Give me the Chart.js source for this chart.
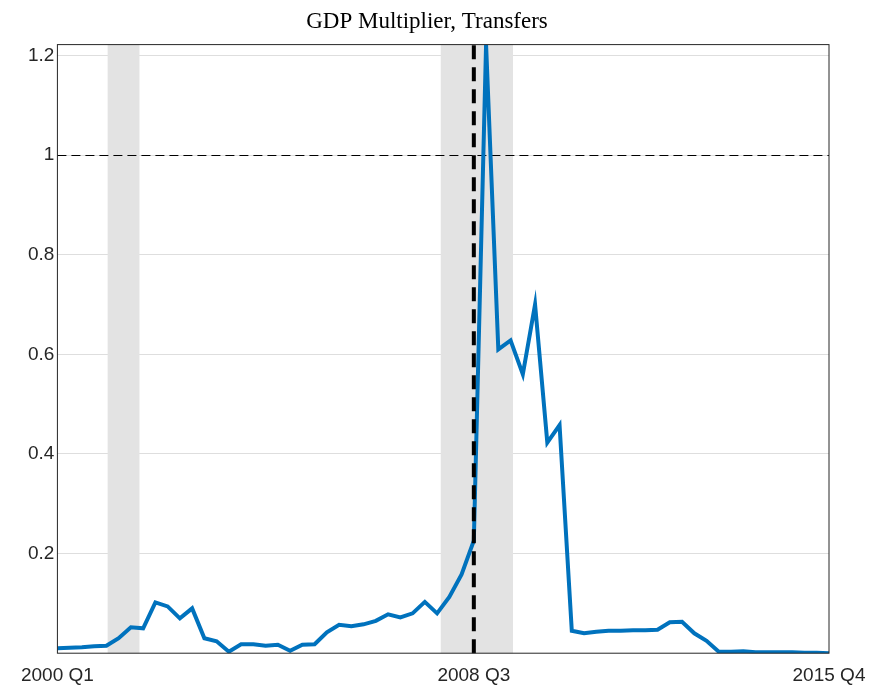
<!DOCTYPE html>
<html>
<head>
<meta charset="utf-8">
<script src="https://cdn.jsdelivr.net/npm/chart.js@4"></script>
<style>
  body { margin: 0; background: #fff; }
  #wrap { width: 876px; height: 690px; }
</style>
</head>
<body>
<div id="wrap"><canvas id="grafico"></canvas></div>
<script>
// quarters 2000Q1 .. 2015Q4, index 0..63
const etiquetas = [];
for (let a = 2000; a <= 2015; a++) for (let q = 1; q <= 4; q++) etiquetas.push(a + " Q" + q);

const multiplicador = [
  0.010, 0.011, 0.012, 0.014, 0.015, 0.030, 0.052, 0.050, 0.102, 0.094,
  0.070, 0.090, 0.030, 0.024, 0.003, 0.018, 0.018, 0.015, 0.017, 0.005,
  0.017, 0.018, 0.042, 0.057, 0.054, 0.058, 0.065, 0.078, 0.072, 0.080,
  0.103, 0.080, 0.113, 0.158, 0.226, 1.222, 0.610, 0.628, 0.560, 0.700,
  0.423, 0.458, 0.045, 0.040, 0.043, 0.045, 0.045, 0.046, 0.046, 0.047,
  0.062, 0.063, 0.040, 0.025, 0.003, 0.003, 0.004, 0.002, 0.002, 0.002,
  0.002, 0.001, 0.001, 0.000
];
const recesiones = [[4.1, 6.7], [31.3, 37.2]];
const ticksX = [0, 34, 63];
const ticksY = [0.2, 0.4, 0.6, 0.8, 1.0, 1.2];
const indiceEvento = 34;

const decoracion = {
  id: "decoracion",
  beforeDatasetsDraw(chart) {
    const { ctx, chartArea: a, scales: { x, y } } = chart;
    ctx.save();
    ctx.fillStyle = "#e3e3e3";
    recesiones.forEach(([i, f]) => {
      const x0 = x.getPixelForValue(i), x1 = x.getPixelForValue(f);
      ctx.fillRect(x0, a.top, x1 - x0, a.bottom - a.top);
    });
    ctx.strokeStyle = "#000";
    ctx.lineWidth = 1;
    ctx.setLineDash([9, 5]);
    const y1 = Math.round(y.getPixelForValue(1)) + 0.5;
    ctx.beginPath(); ctx.moveTo(a.left, y1); ctx.lineTo(a.right, y1); ctx.stroke();
    ctx.restore();
  },
  afterDatasetsDraw(chart) {
    const { ctx, chartArea: a, scales: { x } } = chart;
    ctx.save();
    ctx.strokeStyle = "#000";
    ctx.lineWidth = 4;
    ctx.setLineDash([14, 8]);
    const xe = x.getPixelForValue(indiceEvento);
    ctx.beginPath(); ctx.moveTo(xe, a.bottom); ctx.lineTo(xe, a.top); ctx.stroke();
    ctx.setLineDash([]);
    ctx.lineWidth = 1;
    ctx.strokeStyle = "#262626";
    ctx.strokeRect(a.left, a.top, a.right - a.left, a.bottom - a.top);
    ctx.restore();
  }
};

new Chart(document.getElementById("grafico"), {
  type: "line",
  data: {
    datasets: [{
      data: multiplicador.map((v, i) => ({ x: i, y: v })),
      borderColor: "#0072bd",
      borderWidth: 4,
      pointRadius: 0,
      tension: 0,
      fill: false
    }]
  },
  plugins: [decoracion],
  options: {
    responsive: true,
    maintainAspectRatio: false,
    animation: false,
    layout: { padding: { left: 25, right: 47, top: 0, bottom: 0 } },
    plugins: {
      legend: { display: false },
      tooltip: { enabled: false },
      title: {
        display: true,
        text: "GDP Multiplier, Transfers",
        color: "#000",
        font: { family: "Liberation Serif", size: 23, weight: "normal" },
        padding: { top: 8, bottom: 9 }
      }
    },
    scales: {
      x: {
        type: "linear", min: 0, max: 63,
        afterBuildTicks: s => { s.ticks = ticksX.map(v => ({ value: v })); },
        ticks: {
          autoSkip: false, maxRotation: 0, color: "#262626",
          font: { family: "Liberation Sans", size: 19 },
          callback: v => etiquetas[v]
        },
        grid: { display: false },
        border: { display: false }
      },
      y: {
        min: 0, max: 1.222,
        afterBuildTicks: s => { s.ticks = ticksY.map(v => ({ value: v })); },
        ticks: {
          color: "#262626",
          font: { family: "Liberation Sans", size: 19 },
          callback: v => (Math.round(v * 10) / 10).toString()
        },
        grid: { color: "#dedede", drawTicks: false },
        border: { display: false }
      }
    }
  }
});
</script>
</body>
</html>
